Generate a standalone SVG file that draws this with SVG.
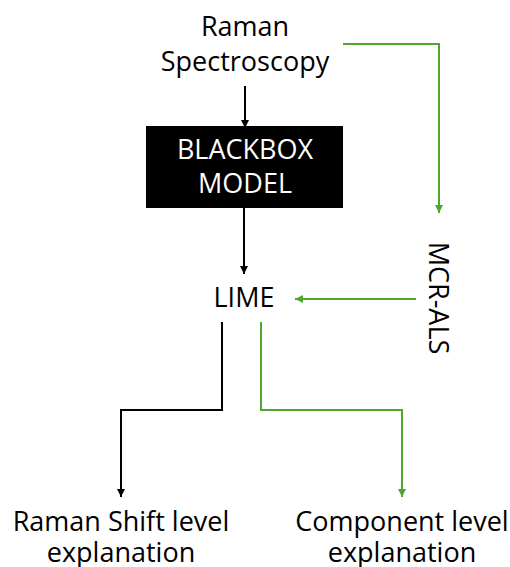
<svg xmlns="http://www.w3.org/2000/svg" width="510" height="567" viewBox="0 0 510 567">
<style>
text{font-family:"Open Sans","Noto Sans",sans-serif;font-size:27px;fill:#000;text-anchor:middle}
.w{fill:#fff}
.k{fill:none;stroke:#000;stroke-width:2}
.g{fill:none;stroke:#4EA72E;stroke-width:2}
</style>
<defs>
<marker id="ak" markerWidth="10" markerHeight="10" refX="8" refY="5" orient="auto" markerUnits="userSpaceOnUse"><path d="M0,1 L8,5 L0,9 Z" fill="#000"/></marker>
<marker id="ag" markerWidth="10" markerHeight="10" refX="8" refY="5" orient="auto" markerUnits="userSpaceOnUse"><path d="M0,1 L8,5 L0,9 Z" fill="#4EA72E"/></marker>
</defs>
<rect width="510" height="567" fill="#fff"/>
<g id="connectors">
<path class="k" d="M245,86 V128" marker-end="url(#ak)"/>
<path class="k" d="M244,208 V274" marker-end="url(#ak)"/>
<path class="g" d="M343,44 H439 V213" marker-end="url(#ag)"/>
<path class="g" d="M416,299 H295" marker-end="url(#ag)"/>
<path class="k" d="M222,322 V410 H121 V497" marker-end="url(#ak)"/>
<path class="g" d="M261,322 V410 H402 V497" marker-end="url(#ag)"/>
</g>
<g id="raman">
<text x="245" y="36">Raman</text>
<text x="245" y="71">Spectroscopy</text>
</g>
<g id="blackbox">
<rect x="146" y="126" width="197" height="82" fill="#000"/>
<text class="w" x="245" y="159">BLACKBOX</text>
<text class="w" x="245" y="193">MODEL</text>
</g>
<g id="lime">
<text x="244" y="307">LIME</text>
</g>
<g id="mcrals">
<text x="439" y="298" transform="rotate(90 439 298)" dominant-baseline="central">MCR-ALS</text>
</g>
<g id="raman-shift">
<text x="121" y="531">Raman Shift level</text>
<text x="121" y="562">explanation</text>
</g>
<g id="component">
<text x="402" y="531">Component level</text>
<text x="402" y="562">explanation</text>
</g>
</svg>
